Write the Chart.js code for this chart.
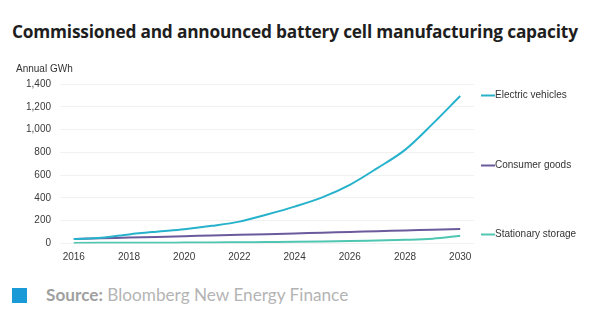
<!DOCTYPE html>
<html>
<head>
<meta charset="utf-8">
<script src="https://cdn.jsdelivr.net/npm/chart.js@4"></script>
<style>
  html, body { margin:0; padding:0; background:#fff; }
  body { width:600px; height:328px; position:relative; overflow:hidden; }
  #title { position:absolute; left:12px; top:20px; font:bold 17.3px "Open Sans", sans-serif; color:#1e1e1e; white-space:nowrap; letter-spacing:-0.2px; }
  #wrap { position:absolute; left:0; top:55px; width:600px; height:215px; }
  #src { position:absolute; left:12px; top:288px; height:16px; font:17.2px Lato, sans-serif; color:#b4b4b4; white-space:nowrap; }
  #src .sq { position:absolute; left:0; top:0; width:15px; height:15px; background:#1b9ad8; }
  #src .txt { position:absolute; left:34px; top:-4px; }
  #src b { color:#a0a0a0; }
</style>
</head>
<body>
<div id="title">Commissioned and announced battery cell manufacturing capacity</div>
<div id="wrap"><canvas id="chart" width="600" height="215"></canvas></div>
<div id="src"><span class="sq"></span><span class="txt"><b>Source:</b> Bloomberg New Energy Finance</span></div>

<script>
// data (GWh per year)
const years = ['2016','2017','2018','2019','2020','2021','2022','2023','2024','2025','2026','2027','2028','2029','2030'];
const evCap       = [40, 50, 80, 104, 126, 155, 192, 255, 324, 405, 515, 662, 822, 1050, 1295];
const consumerCap = [40, 46, 52, 58, 64, 70, 76, 82, 88, 95, 101, 108, 114, 121, 127];
const storageCap  = [5, 6, 7, 7, 8, 9, 11, 13, 15, 18, 22, 27, 32, 42, 68];
const yTicks = [0, 200, 400, 600, 800, 1000, 1200, 1400];

const FONT = '"Liberation Sans", Arial, sans-serif';

// series labels on the right + axis unit label
const sideLabels = {
  id: 'sideLabels',
  afterDraw(chart){
    const {ctx, scales:{y}} = chart;
    ctx.save();
    ctx.font = '10px ' + FONT;
    ctx.fillStyle = '#333';
    ctx.textBaseline = 'middle';
    ctx.fillText('Annual GWh', 16, 14);
    chart.data.datasets.forEach(ds => {
      const py = Math.round(y.getPixelForValue(ds.labelAt)) + 0.5;
      ctx.strokeStyle = ds.borderColor;
      ctx.lineWidth = 2;
      ctx.beginPath(); ctx.moveTo(481, py); ctx.lineTo(495, py); ctx.stroke();
      ctx.fillText(ds.label, 495, py);
    });
    ctx.restore();
  }
};

function line(label, data, color, labelAt){
  return { label, data, labelAt, borderColor: color, backgroundColor: color,
    borderWidth: 2, pointRadius: 0, cubicInterpolationMode: 'monotone', fill: false };
}

new Chart(document.getElementById('chart').getContext('2d'), {
  type: 'line',
  data: {
    labels: years,
    datasets: [
      line('Electric vehicles', evCap, '#27b2cc', 1300),
      line('Consumer goods', consumerCap, '#6b5a9c', 690),
      line('Stationary storage', storageCap, '#4ec6b1', 85)
    ]
  },
  options: {
    responsive: false,
    animation: false,
    layout: { padding: { top: 29, right: 126, left: 0, bottom: 0 } },
    plugins: { legend: { display: false }, tooltip: { enabled: false } },
    scales: {
      x: {
        type: 'category', offset: true,
        grid: { display: false, drawTicks: false },
        border: { display: false },
        afterFit: s => { s.height = 26.5; },
        ticks: { autoSkip: false, maxRotation: 0, padding: 8, color: '#3a3a3a',
          font: { family: FONT, size: 10 },
          callback: (v, i) => i % 2 === 0 ? years[i] : '' }
      },
      y: {
        min: 0, max: 1400,
        afterFit: s => { s.width = 60; },
        afterBuildTicks: s => { s.ticks = yTicks.map(v => ({ value: v })); },
        grid: { color: '#f1f1f1', drawTicks: false, lineWidth: 1 },
        border: { display: false },
        ticks: { padding: 9, color: '#3a3a3a', font: { family: FONT, size: 10 },
          callback: v => v.toLocaleString('en-US') }
      }
    }
  },
  plugins: [sideLabels]
});
</script>
</body>
</html>
